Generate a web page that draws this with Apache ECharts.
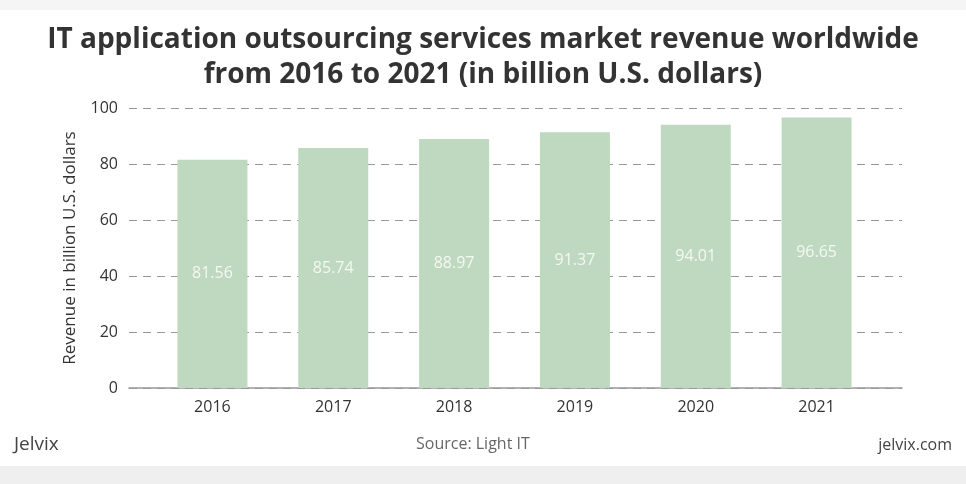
<!DOCTYPE html>
<html>
<head>
<meta charset="utf-8">
<script src="https://cdn.jsdelivr.net/npm/echarts@6/dist/echarts.min.js"></script>
<style>html,body{margin:0;padding:0;background:#fff;}#chart{width:966px;height:484px;}</style>
</head>
<body>
<div id="chart"></div>
<script>
var categories = ['2016', '2017', '2018', '2019', '2020', '2021'];
var revenue = [81.56, 85.74, 88.97, 91.37, 94.01, 96.65];
var yTicks = [0, 20, 40, 60, 80, 100];

var chart = echarts.init(document.getElementById('chart'));
var fontFam = '"Open Sans", Lato, "DejaVu Sans", sans-serif';
chart.setOption({
  backgroundColor: '#ffffff',
  animation: false,
  title: [{
    text: 'IT application outsourcing services market revenue worldwide\nfrom 2016 to 2021 (in billion U.S. dollars)',
    left: 'center', top: 18,
    textStyle: { fontFamily: fontFam, fontWeight: 'bold', fontSize: 28, lineHeight: 35, color: '#333333' }
  }],
  graphic: [
    { type: 'rect', left: 0, top: 0, shape: { width: 966, height: 10 }, style: { fill: '#f5f5f5' }, z: -1 },
    { type: 'rect', left: 0, top: 466, shape: { width: 966, height: 18 }, style: { fill: '#efefef' }, z: -1 },
    { type: 'text', left: 14, top: 435, style: { text: 'Jelvix', fontFamily: fontFam, fontSize: 19, fill: '#444444' } },
    { type: 'text', left: 416, top: 436, style: { text: 'Source: Light IT', fontFamily: fontFam, fontSize: 16, fill: '#666666' } },
    { type: 'text', right: 14, top: 437, style: { text: 'jelvix.com', fontFamily: fontFam, fontSize: 16, fill: '#444444' } }
  ],
  grid: [
    { left: 129, right: 64, top: 108, bottom: 96 },
    { left: 152, right: 89, top: 108, bottom: 96 }
  ],
  xAxis: [
    { type: 'value', gridIndex: 0, min: 0, max: 1, show: true,
      axisLine: { show: true, onZero: false, lineStyle: { color: '#999999', width: 1.5 } },
      axisTick: { show: false }, axisLabel: { show: false }, splitLine: { show: false } },
    { type: 'category', gridIndex: 1, data: categories,
      axisLine: { show: false }, axisTick: { show: false },
      axisLabel: { fontFamily: fontFam, fontSize: 16, fontWeight: 500, color: '#333333', margin: 11 } }
  ],
  yAxis: [
    { type: 'value', gridIndex: 0, min: 0, max: 100, interval: 20,
      name: 'Revenue in billion U.S. dollars', nameLocation: 'middle', nameGap: 50, nameRotate: 90,
      nameTextStyle: { fontFamily: fontFam, fontSize: 17, color: '#333333' },
      axisLine: { show: false }, axisTick: { show: false },
      axisLabel: { fontFamily: fontFam, fontSize: 16, fontWeight: 500, color: '#333333', margin: 11,
        formatter: function (v) { return yTicks.indexOf(v) >= 0 ? String(v) : ''; } },
      splitLine: { show: true, lineStyle: { color: '#9a9a9a', type: [8, 6], width: 1 } } },
    { type: 'value', gridIndex: 1, min: 0, max: 100, interval: 20, show: false, splitLine: { show: false } }
  ],
  series: [{
    type: 'bar', xAxisIndex: 1, yAxisIndex: 1, data: revenue, barWidth: 70,
    itemStyle: { color: '#bed9bf' },
    label: { show: true, position: 'inside', fontFamily: fontFam, fontSize: 16, color: '#f5f8f3',
      formatter: function (p) { return p.value.toFixed(2); } }
  }]
});
</script>
</body>
</html>
